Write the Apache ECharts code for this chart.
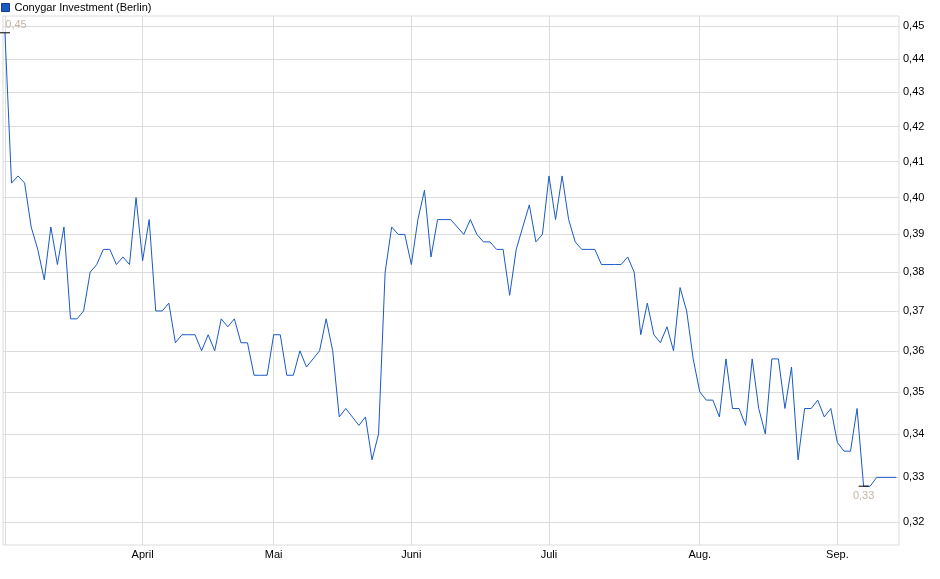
<!DOCTYPE html>
<html>
<head>
<meta charset="utf-8">
<title>Conygar Investment (Berlin)</title>
<script src="https://cdn.jsdelivr.net/npm/echarts@6/dist/echarts.min.js"></script>
<style>
  html, body { margin: 0; padding: 0; background: #fff; }
  #chart { width: 940px; height: 579px; }
</style>
</head>
<body>
<div id="chart"></div>
<script>
// Kursverlauf, ein Wert pro Handelstag (Index 0 = erster Handelstag)
var seriesName = 'Conygar Investment (Berlin)';
var prices = [
  0.448, 0.404, 0.406, 0.404, 0.392, 0.386, 0.378, 0.392, 0.382, 0.392,
  0.368, 0.368, 0.370, 0.380, 0.382, 0.386, 0.386, 0.382, 0.384, 0.382,
  0.400, 0.383, 0.394, 0.370, 0.370, 0.372, 0.362, 0.364, 0.364, 0.364,
  0.360, 0.364, 0.360, 0.368, 0.366, 0.368, 0.362, 0.362, 0.354, 0.354,
  0.354, 0.364, 0.364, 0.354, 0.354, 0.360, 0.356, 0.358, 0.360, 0.368,
  0.360, 0.344, 0.346, 0.344, 0.342, 0.344, 0.334, 0.340, 0.380, 0.392,
  0.390, 0.390, 0.382, 0.394, 0.402, 0.384, 0.394, 0.394, 0.394, 0.392,
  0.390, 0.394, 0.390, 0.388, 0.388, 0.386, 0.386, 0.374, 0.386, 0.392,
  0.398, 0.388, 0.390, 0.406, 0.394, 0.406, 0.394, 0.388, 0.386, 0.386,
  0.386, 0.382, 0.382, 0.382, 0.382, 0.384, 0.380, 0.364, 0.372, 0.364,
  0.362, 0.366, 0.360, 0.376, 0.370, 0.358, 0.350, 0.348, 0.348, 0.344,
  0.358, 0.346, 0.346, 0.342, 0.358, 0.346, 0.340, 0.358, 0.358, 0.346,
  0.356, 0.334, 0.346, 0.346, 0.348, 0.344, 0.346, 0.338, 0.336, 0.336,
  0.346, 0.328, 0.328, 0.330, 0.330, 0.330, 0.330
];
// erster Handelstag jedes Monats (Index) und Beschriftung
var monthStarts = [0, 21, 41, 62, 83, 106, 127];
var monthLabels = ['', 'April', 'Mai', 'Juni', 'Juli', 'Aug.', 'Sep.'];
// Y-Achse (logarithmisch)
var yTicks = [0.32, 0.33, 0.34, 0.35, 0.36, 0.37, 0.38, 0.39, 0.40, 0.41, 0.42, 0.43, 0.44, 0.45];

var fontFam = "'Liberation Sans', Arial, sans-serif";
var gridColor = '#dcdcdc';
var lineColor = '#1a5ac6';

function deNum(v) {
  return v.toFixed(2).replace('.', ',');
}

var chart = echarts.init(document.getElementById('chart'), null, { renderer: 'canvas' });

var option = {
  animation: false,
  backgroundColor: '#fff',
  textStyle: { fontFamily: fontFam },
  legend: {
    left: 1,
    top: 2,
    padding: 0,
    icon: 'rect',
    itemWidth: 8,
    itemHeight: 8,
    itemStyle: { borderColor: '#173d87', borderWidth: 1 },
    textStyle: { fontSize: 11, color: '#000', fontFamily: fontFam },
    data: [seriesName]
  },
  grid: {
    left: 3,
    right: 41,
    top: 16,
    bottom: 34,
    show: true,
    borderColor: gridColor,
    borderWidth: 1
  },
  xAxis: {
    type: 'value',
    min: -0.3,
    max: 136.4,
    axisLine: { show: false },
    axisTick: { show: false, customValues: monthStarts },
    splitLine: { show: true, lineStyle: { color: gridColor, width: 1 } },
    axisLabel: {
      customValues: monthStarts.slice(1),
      fontSize: 11,
      color: '#000',
      margin: 4,
      fontFamily: fontFam,
      formatter: function (v) {
        var k = monthStarts.indexOf(Math.round(v));
        return k >= 0 ? monthLabels[k] : '';
      }
    }
  },
  yAxis: {
    type: 'log',
    position: 'right',
    min: 0.315,
    max: 0.4532,
    axisLine: { show: false },
    axisTick: { show: false, customValues: yTicks },
    splitLine: { show: true, lineStyle: { color: gridColor, width: 1 } },
    axisLabel: {
      customValues: yTicks,
      fontSize: 11,
      color: '#000',
      margin: 4,
      fontFamily: fontFam,
      formatter: function (v) { return deNum(v); }
    }
  },
  series: [{
    name: seriesName,
    type: 'line',
    symbol: 'none',
    data: prices.map(function (v, i) { return [i, v]; }),
    lineStyle: { color: lineColor, width: 1 },
    itemStyle: { color: lineColor },
    markPoint: {
      symbol: 'rect',
      symbolSize: [10, 1],
      itemStyle: { color: '#000' },
      data: [
        {
          type: 'max',
          label: {
            show: true,
            position: 'top',
            distance: 2,
            offset: [11, 0],
            color: '#c4b6a8',
            fontSize: 11,
            fontFamily: fontFam,
            formatter: function (p) { return deNum(p.value); }
          }
        },
        {
          type: 'min',
          label: {
            show: true,
            position: 'bottom',
            distance: 4,
            color: '#c4b6a8',
            fontSize: 11,
            fontFamily: fontFam,
            formatter: function (p) { return deNum(p.value); }
          }
        }
      ]
    }
  }]
};

chart.setOption(option);
</script>
</body>
</html>
